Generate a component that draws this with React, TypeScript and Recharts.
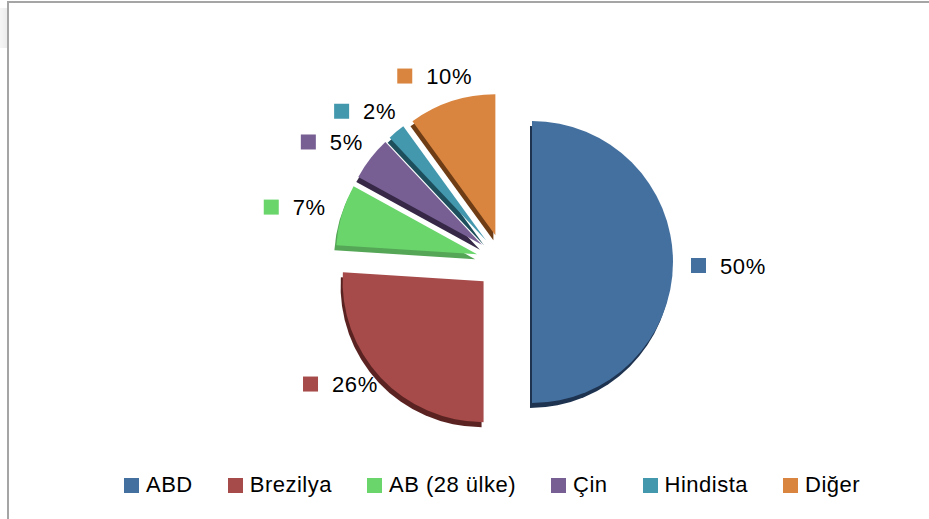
import React from "react";
import { PieChart, Pie, Cell, Legend, Sector } from "recharts";

const countries = ["ABD", "Brezilya", "AB (28 ülke)", "Çin", "Hindista", "Diğer"];
const shares = [50, 26, 7, 5, 2, 10];
const COLORS = ["#44709f", "#a64b4a", "#69d56b", "#775f94", "#4398ae", "#d98540"];
const SIDES = ["#1e3350", "#5a2322", "#55a656", "#362846", "#1d4f5c", "#6e3c15"];

const RADIAN = Math.PI / 180;
const EXPLODE = 28;
const FONT = "'Liberation Sans', Arial, sans-serif";

const data = countries.map((name, i) => ({ name, value: shares[i] }));

// exploded slice with a darker copy underneath for the 3d edge
const renderSlice = (props: any) => {
  const { cx, cy, midAngle, innerRadius, outerRadius, startAngle, endAngle, index } = props;
  const dx = EXPLODE * Math.cos(-midAngle * RADIAN);
  const dy = EXPLODE * Math.sin(-midAngle * RADIAN);
  return (
    <g>
      <Sector
        cx={cx + dx - 2}
        cy={cy + dy + 5}
        innerRadius={innerRadius}
        outerRadius={outerRadius}
        startAngle={startAngle}
        endAngle={endAngle}
        fill={SIDES[index]}
        stroke="none"
      />
      <Sector
        cx={cx + dx}
        cy={cy + dy}
        innerRadius={innerRadius}
        outerRadius={outerRadius}
        startAngle={startAngle}
        endAngle={endAngle}
        fill={COLORS[index]}
        stroke="none"
      />
    </g>
  );
};

const renderLabel = (props: any) => {
  const { cx, cy, midAngle, outerRadius, value, index } = props;
  const cos = Math.cos(-midAngle * RADIAN);
  const sin = Math.sin(-midAngle * RADIAN);
  const r = EXPLODE + outerRadius + 18;
  const px = cx + r * cos;
  // labels sit a little higher on the tilted pie, except on the right
  const py = cy + r * sin - 8 * Math.abs(sin) + 4 * Math.max(cos, 0);
  const text = `${value}%`;
  const textW = (text.length - 1) * 12.9 + 20;
  const groupW = 15 + 14 + textW;
  const left = px - (groupW * (1 - cos)) / 2;
  return (
    <g>
      <rect x={left} y={py - 8} width={15} height={15} fill={COLORS[index]} />
      <text
        x={left + 29}
        y={py}
        dominantBaseline="central"
        fontFamily={FONT}
        fontSize={22}
        letterSpacing={0.6}
        fill="#000"
      >
        {text}
      </text>
    </g>
  );
};

const renderLegend = () => (
  <div
    style={{
      display: "flex",
      paddingLeft: 124,
      fontFamily: FONT,
      fontSize: 22,
      letterSpacing: 0.5,
      color: "#000",
    }}
  >
    {countries.map((name, i) => (
      <div key={name} style={{ display: "flex", alignItems: "center", marginRight: 35 }}>
        <span style={{ width: 15, height: 15, background: COLORS[i], marginRight: 7, display: "inline-block" }} />
        <span>{name}</span>
      </div>
    ))}
  </div>
);

export default function App() {
  return (
    <div style={{ position: "absolute", left: 0, top: 0, width: 929, height: 519, background: "#fff", overflow: "hidden" }}>
      <div
        style={{
          position: "absolute",
          left: 0,
          top: 8,
          width: 7,
          height: 40,
          background: "linear-gradient(to right, #f6f6f6, #ececec)",
        }}
      />
      <div
        style={{
          position: "absolute",
          left: 7,
          top: 1,
          width: 1000,
          height: 1000,
          borderLeft: "2px solid #a5a5a5",
          borderTop: "2px solid #a5a5a5",
        }}
      />
      <PieChart
        width={929}
        height={519}
        margin={{ top: 0, right: 0, bottom: 0, left: 0 }}
        style={{ position: "absolute", left: 0, top: 0 }}
      >
        <Pie
          data={data}
          dataKey="value"
          nameKey="name"
          cx={504}
          cy={262}
          outerRadius={141}
          startAngle={90}
          endAngle={-270}
          stroke="none"
          labelLine={false}
          label={renderLabel}
          shape={renderSlice}
          activeShape={renderSlice}
          inactiveShape={renderSlice}
          isAnimationActive={false}
        >
          {data.map((entry, index) => (
            <Cell key={`cell-${index}`} fill={COLORS[index]} />
          ))}
        </Pie>
        <Legend
          verticalAlign="bottom"
          content={renderLegend}
          wrapperStyle={{ left: 0, width: 929, bottom: 21 }}
        />
      </PieChart>
    </div>
  );
}
